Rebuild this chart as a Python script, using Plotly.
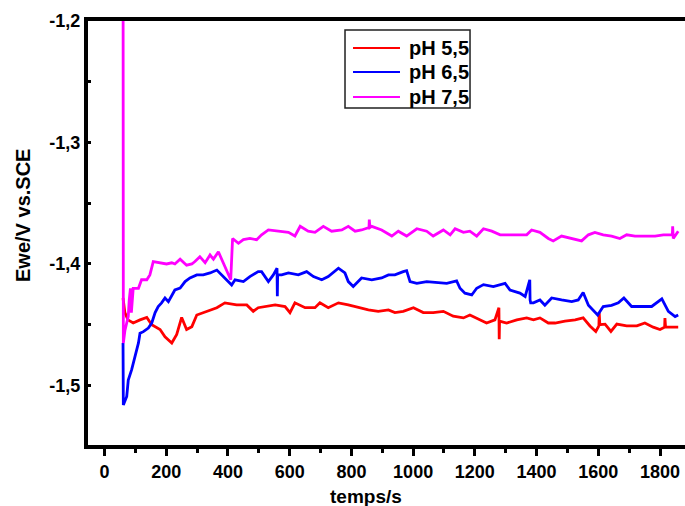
import plotly.graph_objects as go

# Open-circuit potential vs time at three pH values
t_ph55 = [60, 66, 76, 93, 115, 137, 153, 180, 196, 218, 234, 250, 266, 283, 299, 331, 364, 390,
          428, 461, 482, 498, 520, 553, 585, 601, 617, 650, 682, 698, 725, 758, 790, 822, 855,
          887, 920, 941, 968, 1001, 1033, 1065, 1098, 1130, 1163, 1184, 1217, 1238, 1265, 1278,
          1279, 1280, 1303, 1336, 1368, 1390, 1411, 1438, 1460, 1492, 1525, 1551, 1573, 1592,
          1602, 1603, 1605, 1622, 1641, 1660, 1692, 1725, 1751, 1778, 1800, 1815, 1816, 1818,
          1838, 1859]
e_ph55 = [-1.428, -1.440, -1.446, -1.4486, -1.446, -1.444, -1.450, -1.454, -1.460, -1.465,
          -1.458, -1.444, -1.454, -1.4516, -1.442, -1.439, -1.436, -1.432, -1.4337, -1.4337,
          -1.439, -1.436, -1.435, -1.4337, -1.435, -1.440, -1.432, -1.436, -1.436, -1.432,
          -1.436, -1.432, -1.4337, -1.436, -1.4378, -1.439, -1.4378, -1.440, -1.439, -1.436,
          -1.440, -1.440, -1.439, -1.443, -1.4444, -1.442, -1.446, -1.4486, -1.446, -1.436,
          -1.462, -1.447, -1.4486, -1.446, -1.4444, -1.446, -1.4444, -1.4486, -1.4486, -1.447,
          -1.446, -1.4444, -1.451, -1.4555, -1.451, -1.440, -1.450, -1.4495, -1.4555, -1.4495,
          -1.451, -1.451, -1.4486, -1.452, -1.454, -1.452, -1.4445, -1.452, -1.452, -1.452]

t_ph65 = [60, 61, 72, 77, 88, 99, 110, 115, 126, 142, 153, 164, 174, 185, 196, 207, 218, 228,
          245, 261, 277, 299, 320, 342, 364, 380, 401, 412, 423, 450, 471, 498, 509, 531, 547,
          559, 560, 561, 574, 596, 628, 655, 677, 704, 725, 758, 779, 790, 806, 833, 866, 898,
          920, 941, 968, 979, 990, 1012, 1044, 1077, 1109, 1141, 1152, 1168, 1190, 1206, 1228,
          1260, 1298, 1314, 1346, 1363, 1378, 1379, 1381, 1390, 1411, 1427, 1449, 1481, 1514,
          1535, 1551, 1568, 1584, 1598, 1616, 1643, 1665, 1683, 1708, 1741, 1773, 1806, 1827,
          1849, 1859]
e_ph65 = [-1.465, -1.516, -1.509, -1.4955, -1.487, -1.476, -1.465, -1.457, -1.4557, -1.4527,
          -1.4486, -1.440, -1.435, -1.432, -1.428, -1.431, -1.4255, -1.4214, -1.4198, -1.4145,
          -1.4115, -1.409, -1.409, -1.4074, -1.405, -1.409, -1.4145, -1.4173, -1.413, -1.4145,
          -1.4104, -1.4063, -1.4063, -1.4145, -1.409, -1.4035, -1.4266, -1.409, -1.409,
          -1.4074, -1.409, -1.4063, -1.4104, -1.413, -1.4104, -1.4035, -1.4074, -1.4145,
          -1.4186, -1.4115, -1.413, -1.4115, -1.409, -1.409, -1.4063, -1.4055, -1.4145, -1.416,
          -1.4145, -1.4153, -1.416, -1.414, -1.420, -1.424, -1.4255, -1.420, -1.417, -1.4186,
          -1.416, -1.4214, -1.424, -1.4268, -1.413, -1.4296, -1.432, -1.432, -1.4296, -1.434,
          -1.428, -1.4296, -1.431, -1.4296, -1.4234, -1.434, -1.438, -1.442, -1.435, -1.434,
          -1.432, -1.428, -1.435, -1.435, -1.435, -1.4288, -1.439, -1.4433, -1.442]

t_ph75 = [60, 61, 66, 72, 77, 80, 84, 87, 90, 93, 110, 120, 137, 147, 158, 180, 201, 218, 228,
          245, 266, 283, 293, 309, 326, 342, 353, 369, 380, 396, 409, 415, 434, 450, 471, 493,
          509, 531, 563, 596, 617, 634, 660, 682, 709, 736, 769, 790, 812, 833, 857, 858, 860,
          866, 898, 931, 952, 971, 979, 1012, 1044, 1065, 1098, 1120, 1136, 1163, 1184, 1206,
          1228, 1255, 1282, 1314, 1346, 1368, 1384, 1411, 1438, 1454, 1481, 1514, 1546, 1568,
          1589, 1616, 1643, 1670, 1692, 1719, 1751, 1784, 1811, 1840, 1841, 1843, 1859]
e_ph75 = [-1.10, -1.465, -1.455, -1.447, -1.443, -1.430, -1.420, -1.440, -1.425, -1.420,
          -1.420, -1.413, -1.413, -1.409, -1.398, -1.399, -1.400, -1.399, -1.400, -1.396,
          -1.401, -1.400, -1.398, -1.394, -1.399, -1.3926, -1.396, -1.390, -1.396, -1.405,
          -1.413, -1.379, -1.383, -1.380, -1.379, -1.380, -1.376, -1.372, -1.373, -1.374,
          -1.377, -1.369, -1.373, -1.374, -1.369, -1.373, -1.372, -1.369, -1.373, -1.372,
          -1.370, -1.3634, -1.370, -1.369, -1.372, -1.377, -1.373, -1.376, -1.377, -1.371,
          -1.373, -1.377, -1.372, -1.376, -1.371, -1.374, -1.373, -1.377, -1.371, -1.373,
          -1.376, -1.376, -1.376, -1.376, -1.372, -1.374, -1.379, -1.381, -1.377, -1.379,
          -1.381, -1.376, -1.374, -1.376, -1.377, -1.379, -1.376, -1.377, -1.377, -1.377,
          -1.376, -1.376, -1.369, -1.379, -1.373]

series = [
    ("pH 5,5", t_ph55, e_ph55, "#FF0000"),
    ("pH 6,5", t_ph65, e_ph65, "#0000FF"),
    ("pH 7,5", t_ph75, e_ph75, "#FF00FF"),
]

x_ticks = [0, 200, 400, 600, 800, 1000, 1200, 1400, 1600, 1800]
x_minor = [100, 300, 500, 700, 900, 1100, 1300, 1500, 1700]
y_ticks = [-1.2, -1.3, -1.4, -1.5]
y_labels = ["-1,2", "-1,3", "-1,4", "-1,5"]
y_minor = [-1.25, -1.35, -1.45, -1.55]

FONT = "Liberation Sans, Arial, sans-serif"

fig = go.Figure()
for name, t, e, color in series:
    fig.add_trace(go.Scatter(x=t, y=e, mode="lines", name=name, showlegend=False,
                             line=dict(color=color, width=2.8)))

# Boxed key in the upper middle of the plot (paper coordinates)
box_x0, box_x1, box_y0, box_y1 = 0.4305, 0.6399, 0.7948, 0.9788
key_line_x0, key_line_x1, key_text_x = 0.4439, 0.5226, 0.5343
key_rows_y = [0.9363, 0.8797, 0.8208]

shapes = [dict(type="rect", xref="paper", yref="paper",
               x0=box_x0, x1=box_x1, y0=box_y0, y1=box_y1,
               line=dict(color="#202020", width=1.5), fillcolor="white", layer="above")]
annotations = []
for (name, _, _, color), ky in zip(series, key_rows_y):
    shapes.append(dict(type="line", xref="paper", yref="paper",
                       x0=key_line_x0, x1=key_line_x1, y0=ky, y1=ky,
                       line=dict(color=color, width=2), layer="above"))
    annotations.append(dict(xref="paper", yref="paper", x=key_text_x, y=ky,
                            xanchor="left", yanchor="middle", showarrow=False,
                            text=name,
                            font=dict(family=FONT, size=20, color="black", weight="bold")))

# Axis titles
annotations.append(dict(xref="paper", yref="paper", x=0.4657, y=-0.1226,
                        xanchor="center", yanchor="middle", showarrow=False,
                        text="temps/s",
                        font=dict(family=FONT, size=19, color="black", weight="bold")))
annotations.append(dict(xref="paper", yref="paper", x=-0.1089, y=0.5425,
                        xanchor="center", yanchor="middle", showarrow=False,
                        text="Ewe/V vs.SCE", textangle=-90,
                        font=dict(family=FONT, size=20, color="black", weight="bold")))

fig.update_layout(
    width=685, height=506,
    margin=dict(l=88, r=0, t=21, b=61),
    paper_bgcolor="white", plot_bgcolor="white",
    font=dict(family=FONT, size=18, color="black", weight="bold"),
    showlegend=False,
    shapes=shapes,
    annotations=annotations,
)

fig.update_xaxes(
    range=[-53.5, 1881],
    tickmode="array", tickvals=x_ticks,
    ticks="outside", ticklen=7, tickwidth=3, tickcolor="black",
    minor=dict(tickmode="array", tickvals=x_minor, ticks="outside",
               ticklen=4, tickwidth=3, tickcolor="black"),
    showline=True, linewidth=4, linecolor="black", mirror=True,
    showgrid=False, zeroline=False,
    tickfont=dict(family=FONT, size=18, color="black", weight="bold"),
)

fig.update_yaxes(
    range=[-1.549, -1.2],
    tickmode="array", tickvals=y_ticks, ticktext=y_labels,
    ticks="inside", ticklen=3, tickwidth=3, tickcolor="black",
    minor=dict(tickmode="array", tickvals=y_minor, ticks="inside",
               ticklen=3, tickwidth=3, tickcolor="black"),
    showline=True, linewidth=4, linecolor="black", mirror=False,
    showgrid=False, zeroline=False,
    tickfont=dict(family=FONT, size=18, color="black", weight="bold"),
)

fig.write_html("out.html")
